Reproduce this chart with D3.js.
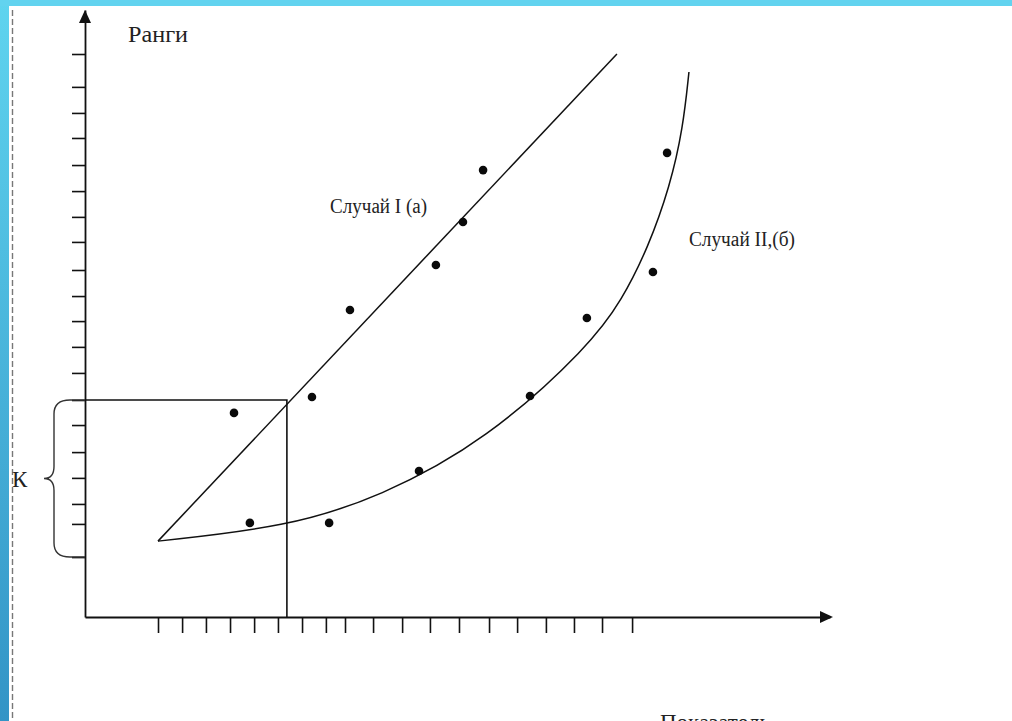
<!DOCTYPE html>
<html>
<head>
<meta charset="utf-8">
<script src="https://cdn.jsdelivr.net/npm/d3@7/dist/d3.min.js"></script>
<style>
  html, body { margin: 0; padding: 0; background: #fff; }
  svg { display: block; }
  text { font-family: "Liberation Serif", "DejaVu Serif", serif; fill: #222; }
</style>
</head>
<body>
<svg width="1012" height="721"></svg>
<script>
// tick positions (not evenly spaced in the original)
var yTicks = [2.37, 3.68, 4.47, 5.50, 6.52, 7.59, 8.58, 9.65, 10.68, 11.70, 12.69,
              13.72, 14.83, 15.82, 16.84, 17.87, 18.94, 19.93, 20.96, 22.26];
var xTicks = [2.94, 3.91, 4.87, 5.84, 6.81, 7.77, 8.74, 9.70, 10.47, 11.60, 12.77,
              13.89, 15.06, 16.27, 17.40, 18.56, 19.69, 20.82, 22.03];

// case I: straight line + scatter
var lineI = [[2.94, 3.00], [21.42, 22.26]];
var pointsI = [[6.0, 8.07], [9.14, 8.70], [10.67, 12.14], [14.13, 13.92], [15.22, 15.62], [16.03, 17.67]];

// case II: curve + scatter
var curveII = [[2.94, 3.00], [8.13, 3.56], [11.88, 4.74], [16.19, 7.0], [20.34, 10.75],
               [21.62, 12.53], [22.67, 14.59], [23.56, 17.04], [24.08, 19.33], [24.32, 21.55]];
var pointsII = [[6.64, 3.72], [9.83, 3.72], [13.45, 5.77], [17.92, 8.74], [20.21, 11.82], [22.87, 13.64], [23.44, 18.35]];

// region K (box + brace)
var kBox = {x: 8.13, y: 8.58};
var kBrace = [2.37, 8.58];

var svg = d3.select('svg');

// slide frame
var defs = svg.append('defs');
var grad = defs.append('linearGradient').attr('id', 'side').attr('x1', 0).attr('y1', 0).attr('x2', 0).attr('y2', 1);
grad.append('stop').attr('offset', '0%').attr('stop-color', '#5fd4ef');
grad.append('stop').attr('offset', '100%').attr('stop-color', '#3394c6');
svg.append('rect').attr('x', 0).attr('y', 0).attr('width', 9).attr('height', 721).attr('fill', 'url(#side)');
svg.append('rect').attr('x', 0).attr('y', 0).attr('width', 1012).attr('height', 6).attr('fill', '#62d3ef');
svg.append('line').attr('x1', 12.5).attr('x2', 12.5).attr('y1', 10).attr('y2', 721)
    .attr('stroke', '#777').attr('stroke-width', 1.4).attr('stroke-dasharray', '6,3');

var x = d3.scaleLinear().domain([0, 30]).range([85, 830]);
var y = d3.scaleLinear().domain([0, 24]).range([617, 10]);

var g = svg.append('g');

// axes
var yAxis = d3.axisLeft(y).tickValues(yTicks).tickSize(13).tickSizeOuter(0).tickFormat('');
var xAxis = d3.axisBottom(x).tickValues(xTicks).tickSize(16).tickSizeOuter(0).tickFormat('');

g.append('g').attr('transform', 'translate(' + x(0) + ',0)').call(yAxis)
  .call(function(a) {
    a.select('.domain').attr('stroke', '#111').attr('stroke-width', 1.8);
    a.selectAll('.tick line').attr('stroke', '#111').attr('stroke-width', 1.6);
  });
g.append('g').attr('transform', 'translate(0,' + y(0) + ')').call(xAxis)
  .call(function(a) {
    a.select('.domain').attr('stroke', '#111').attr('stroke-width', 1.8);
    a.selectAll('.tick line').attr('stroke', '#111').attr('stroke-width', 1.6);
  });

// arrow heads
var x0 = x(0), y0 = y(0), yTop = y(24), xEnd = x(30);
g.append('path').attr('d', 'M' + x0 + ',' + yTop + ' L' + (x0 - 6) + ',' + (yTop + 13) + ' L' + (x0 + 6) + ',' + (yTop + 13) + 'Z')
  .attr('fill', '#111');
g.append('path').attr('d', 'M' + (xEnd + 3) + ',' + y0 + ' L' + (xEnd - 10) + ',' + (y0 - 6) + ' L' + (xEnd - 10) + ',' + (y0 + 6) + 'Z')
  .attr('fill', '#111');

// box around region K
g.append('path')
  .attr('d', 'M' + x(0) + ',' + y(kBox.y) + ' H' + x(kBox.x) + ' V' + y(0))
  .attr('fill', 'none').attr('stroke', '#111').attr('stroke-width', 1.6);

// brace
var bt = y(kBrace[1]), bb = y(kBrace[0]), bm = (bt + bb) / 2;
var bx = 54, be = 70, tip = 44;
var bracePath = 'M' + x0 + ',' + bt + ' H' + be +
  ' Q' + bx + ',' + bt + ' ' + bx + ',' + (bt + 14) +
  ' V' + (bm - 12) +
  ' Q' + bx + ',' + bm + ' ' + tip + ',' + bm +
  ' Q' + bx + ',' + bm + ' ' + bx + ',' + (bm + 12) +
  ' V' + (bb - 14) +
  ' Q' + bx + ',' + bb + ' ' + be + ',' + bb + ' H' + x0;
g.append('path').attr('d', bracePath).attr('fill', 'none').attr('stroke', '#333').attr('stroke-width', 1.4);

// case I line
var lineGen = d3.line().x(function(d) { return x(d[0]); }).y(function(d) { return y(d[1]); });
g.append('path').datum(lineI).attr('d', lineGen)
  .attr('fill', 'none').attr('stroke', '#111').attr('stroke-width', 1.5);

// case II curve
g.append('path').datum(curveII).attr('d', lineGen.curve(d3.curveBasis))
  .attr('fill', 'none').attr('stroke', '#111').attr('stroke-width', 1.5);

// points
g.selectAll('.pt').data(pointsI.concat(pointsII)).enter().append('circle')
  .attr('class', 'pt')
  .attr('cx', function(d) { return x(d[0]); })
  .attr('cy', function(d) { return y(d[1]); })
  .attr('r', 4.3).attr('fill', '#0a0a0a');

// labels
svg.append('text').attr('x', 128).attr('y', 42).attr('font-size', 23)
  .attr('textLength', 60).attr('lengthAdjust', 'spacingAndGlyphs').text('Ранги');
svg.append('text').attr('x', x(9.87)).attr('y', y(15.97)).attr('font-size', 20)
  .attr('textLength', 97).attr('lengthAdjust', 'spacingAndGlyphs').text('Случай I (а)');
svg.append('text').attr('x', x(24.32)).attr('y', y(14.67)).attr('font-size', 20)
  .attr('textLength', 106).attr('lengthAdjust', 'spacingAndGlyphs').text('Случай II,(б)');
svg.append('text').attr('x', 12).attr('y', bm + 8).attr('font-size', 23).text('К');
svg.append('text').attr('x', 660).attr('y', 730).attr('font-size', 23)
  .attr('textLength', 110).attr('lengthAdjust', 'spacingAndGlyphs').text('Показатель');
</script>
</body>
</html>
